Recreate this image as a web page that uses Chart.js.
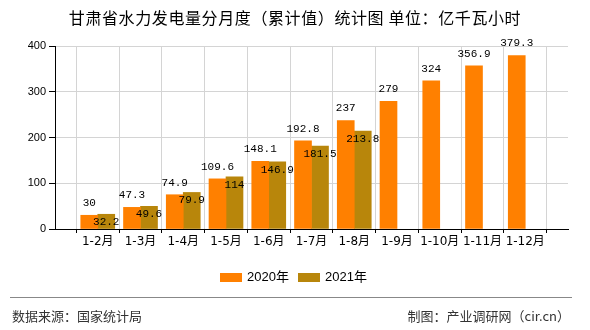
<!DOCTYPE html>
<html>
<head>
<meta charset="utf-8">
<script src="https://cdn.jsdelivr.net/npm/chart.js@4/dist/chart.umd.min.js"></script>
<style>
  html, body { margin: 0; padding: 0; background: #fff; }
  #wrap { position: relative; width: 590px; height: 330px; overflow: hidden;
          font-family: "Noto Sans CJK SC", "DejaVu Sans", sans-serif; }
  #c { position: absolute; left: 0; top: 0; }
  .title { position: absolute; left: 0; width: 590px; top: 6px; text-align: center;
           font-size: 16px; line-height: 22px; color: #000; letter-spacing: 0.6px; }
  .legend { position: absolute; top: 268px; left: 0; width: 590px; height: 18px; }
  .legend .box { position: absolute; top: 5px; width: 22px; height: 9px; }
  .legend .txt { position: absolute; top: 0; font-size: 13px; line-height: 18px; color: #000;
                 font-family: "Liberation Sans", "Noto Sans CJK SC", sans-serif; }
  .rule { position: absolute; left: 10px; width: 562px; top: 297px; height: 1px; background: #888; }
  .foot { position: absolute; top: 306px; font-size: 13px; line-height: 20px; color: #333; }
</style>
</head>
<body>
<div id="wrap">
  <canvas id="c" width="590" height="330"></canvas>
  <div class="title">甘肃省水力发电量分月度（累计值）统计图 单位：亿千瓦小时</div>
  <div class="legend">
    <div class="box" style="left:220px;background:#FF8000"></div>
    <div class="txt" style="left:247px">2020年</div>
    <div class="box" style="left:298px;background:#B8860B"></div>
    <div class="txt" style="left:325px">2021年</div>
  </div>
  <div class="rule"></div>
  <div class="foot" style="left:12px">数据来源：国家统计局</div>
  <div class="foot" style="right:20px">制图：产业调研网（cir.cn）</div>
</div>
<script>
const categories = ['1-2月','1-3月','1-4月','1-5月','1-6月','1-7月','1-8月','1-9月','1-10月','1-11月','1-12月'];
const values2020 = [30, 47.3, 74.9, 109.6, 148.1, 192.8, 237, 279, 324, 356.9, 379.3];
const values2021 = [32.2, 49.6, 79.9, 114, 146.9, 181.5, 213.8, null, null, null, null];
const yTicks = [0, 100, 200, 300, 400];
const seriesNames = ['2020年', '2021年'];

const toPoints = arr => arr.map((v, i) => ({ x: i + 1, y: v }));

const labelPlugin = {
  id: 'barLabels',
  afterDatasetsDraw(chart) {
    const ctx = chart.ctx;
    ctx.save();
    ctx.font = '11px "Liberation Mono", "DejaVu Sans Mono", monospace';
    ctx.fillStyle = '#000';
    ctx.textAlign = 'center';
    ctx.textBaseline = 'middle';
    chart.data.datasets.forEach((ds, di) => {
      const meta = chart.getDatasetMeta(di);
      meta.data.forEach((bar, i) => {
        const v = ds.data[i].y;
        if (v === null || v === undefined) return;
        const y = di === 0 ? bar.y - 12 : bar.y + 8;
        ctx.fillText(String(v), bar.x, y);
      });
    });
    ctx.restore();
  }
};

new Chart(document.getElementById('c'), {
  type: 'bar',
  data: {
    datasets: [
      { label: seriesNames[0], data: toPoints(values2020), backgroundColor: '#FF8000', barThickness: 17 },
      { label: seriesNames[1], data: toPoints(values2021), backgroundColor: '#B8860B', barThickness: 17 }
    ]
  },
  options: {
    responsive: false,
    animation: false,
    events: [],
    layout: { padding: { left: 0, right: 22, top: 46, bottom: 0 } },
    plugins: { legend: { display: false }, title: { display: false }, tooltip: { enabled: false } },
    scales: {
      x: {
        type: 'linear',
        min: 0, max: categories.length + 1,
        offset: false,
        grid: { color: '#d4d4d4', tickColor: '#000', tickLength: 4, lineWidth: 1 },
        border: { color: '#000', width: 1 },
        ticks: {
          stepSize: 1, autoSkip: false, maxRotation: 0, padding: 2,
          color: '#000',
          font: { size: 12, family: '"DejaVu Sans", "Noto Sans CJK SC", sans-serif' },
          callback: v => categories[v - 1] || ''
        },
        afterFit: s => { s.height = 101; }
      },
      y: {
        min: 0, max: 400,
        grid: { color: '#d4d4d4', tickColor: '#000', tickLength: 6, lineWidth: 1 },
        border: { color: '#000', width: 1 },
        afterBuildTicks: s => { s.ticks = yTicks.map(v => ({ value: v })); },
        ticks: {
          color: '#000', padding: 3,
          font: { size: 11, family: '"Liberation Sans", Arial, sans-serif' }
        },
        afterFit: s => { s.width = 55; }
      }
    }
  },
  plugins: [labelPlugin]
});
</script>
</body>
</html>
